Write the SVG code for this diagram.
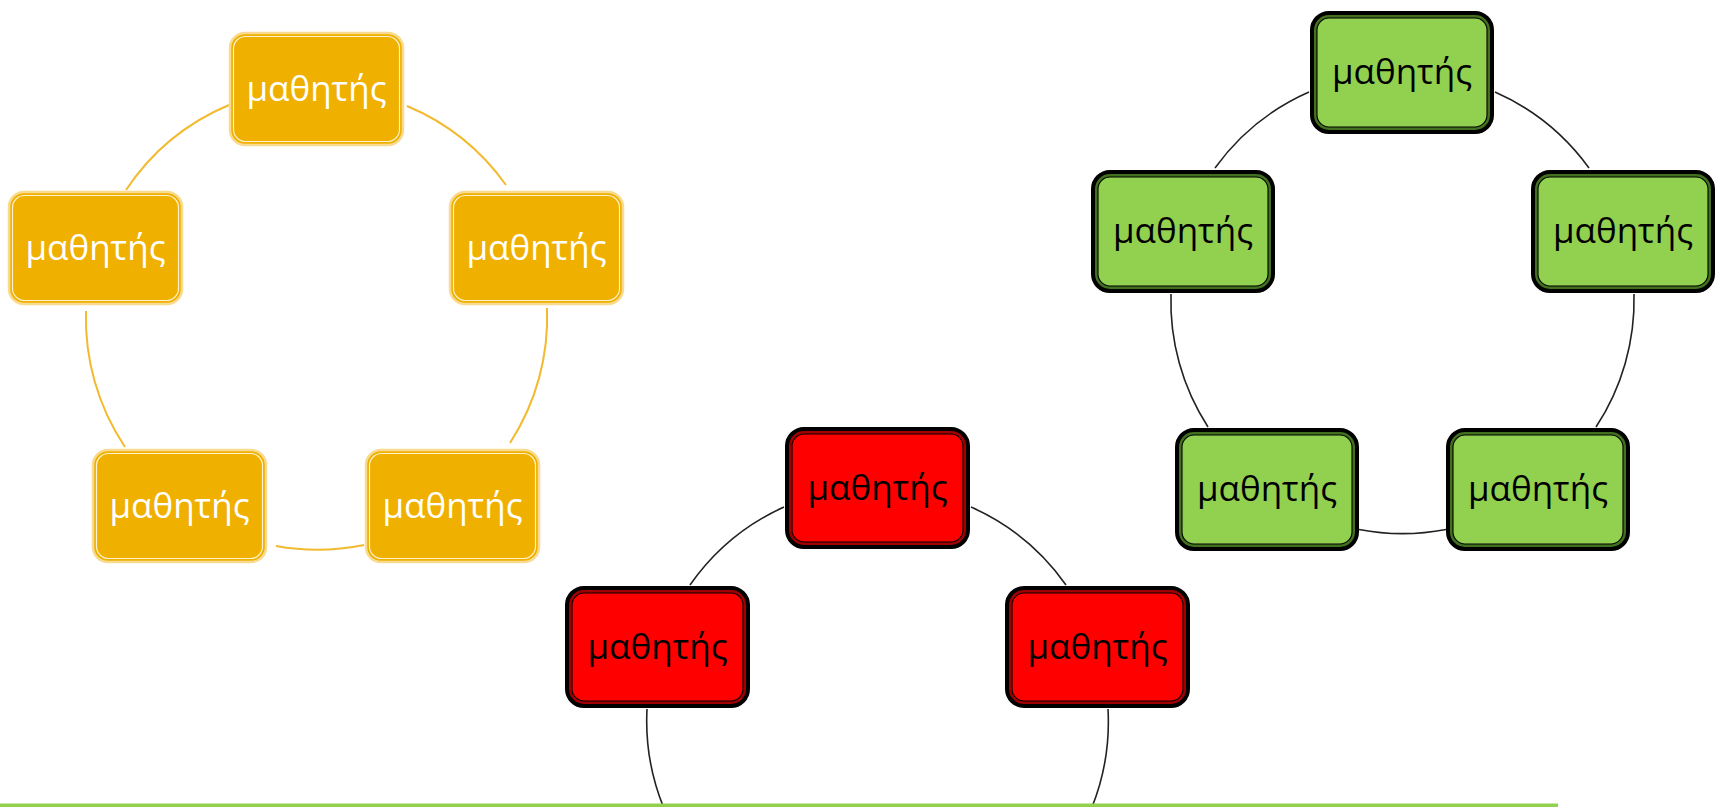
<svg xmlns="http://www.w3.org/2000/svg" width="1723" height="807" viewBox="0 0 1723 807">
<style>
.bg{fill:#FFFFFF}
.oOut{fill:#F0B000;stroke:#F8DA90;stroke-width:2.5}
.oIn{fill:none;stroke:#FFF2CC;stroke-width:1.2}
.rOut{fill:#A00000;stroke:#000000;stroke-width:4}
.rIn{fill:#FF0000;stroke:#000000;stroke-width:1.1}
.gOut{fill:#41701F;stroke:#000000;stroke-width:4}
.gIn{fill:#92D050;stroke:#000000;stroke-width:1.1}
.t{font-family:"Open Sans","Noto Sans","DejaVu Sans",sans-serif;font-size:35px;text-anchor:middle}
.tw{fill:#FFFFFF}
.tb{fill:#000000}
.co{fill:none;stroke:#F2BA2E;stroke-width:2}
.ck{fill:none;stroke:#222222;stroke-width:1.6}
</style>
<rect class="bg" x="0" y="0" width="1723" height="807"/>
<g id="connectors">
  <path class="co" d="M126 190 A231 231 0 0 1 229 105"/>
  <path class="co" d="M407 106 A231 231 0 0 1 506 185"/>
  <path class="co" d="M547 308 A231 231 0 0 1 510 443"/>
  <path class="co" d="M364 545 A231 231 0 0 1 276 546"/>
  <path class="co" d="M125 447 A231 231 0 0 1 86 311"/>
  <path class="ck" d="M1215 168 A231 231 0 0 1 1309 92"/>
  <path class="ck" d="M1495 92 A231 231 0 0 1 1589 168"/>
  <path class="ck" d="M1634 294 A231 231 0 0 1 1596 427"/>
  <path class="ck" d="M1446 529.5 A231 231 0 0 1 1359 529.5"/>
  <path class="ck" d="M1208 427 A231 231 0 0 1 1171 294"/>
  <path class="ck" d="M690 585 A231 231 0 0 1 784 507"/>
  <path class="ck" d="M971 507 A231 231 0 0 1 1066 585"/>
  <path class="ck" d="M1108 709 A231 231 0 0 1 1090 812"/>
  <path class="ck" d="M665.5 812 A231 231 0 0 1 647 709"/>
</g>
<rect id="baseline" x="0" y="803.5" width="1558" height="3.5" fill="#92D050"/>
<g id="o1"><rect class="oOut" x="230" y="33" width="173" height="112" rx="15"/><rect class="oIn" x="233.5" y="36.5" width="166" height="105" rx="12"/><text class="t tw" x="316.5" y="101">μαθητής</text></g>
<g id="o2"><rect class="oOut" x="450" y="192" width="173" height="112" rx="15"/><rect class="oIn" x="453.5" y="195.5" width="166" height="105" rx="12"/><text class="t tw" x="536.5" y="260">μαθητής</text></g>
<g id="o3"><rect class="oOut" x="366" y="450" width="173" height="112" rx="15"/><rect class="oIn" x="369.5" y="453.5" width="166" height="105" rx="12"/><text class="t tw" x="452.5" y="518">μαθητής</text></g>
<g id="o4"><rect class="oOut" x="93" y="450" width="173" height="112" rx="15"/><rect class="oIn" x="96.5" y="453.5" width="166" height="105" rx="12"/><text class="t tw" x="179.5" y="518">μαθητής</text></g>
<g id="o5"><rect class="oOut" x="9" y="192" width="173" height="112" rx="15"/><rect class="oIn" x="12.5" y="195.5" width="166" height="105" rx="12"/><text class="t tw" x="95.5" y="260">μαθητής</text></g>
<g id="g1"><rect class="gOut" x="1312" y="13" width="180" height="119" rx="17"/><rect class="gIn" x="1317" y="18" width="170" height="109" rx="12"/><text class="t tb" x="1402" y="84">μαθητής</text></g>
<g id="g2"><rect class="gOut" x="1533" y="172" width="180" height="119" rx="17"/><rect class="gIn" x="1538" y="177" width="170" height="109" rx="12"/><text class="t tb" x="1623" y="243">μαθητής</text></g>
<g id="g3"><rect class="gOut" x="1448" y="430" width="180" height="119" rx="17"/><rect class="gIn" x="1453" y="435" width="170" height="109" rx="12"/><text class="t tb" x="1538" y="501">μαθητής</text></g>
<g id="g4"><rect class="gOut" x="1177" y="430" width="180" height="119" rx="17"/><rect class="gIn" x="1182" y="435" width="170" height="109" rx="12"/><text class="t tb" x="1267" y="501">μαθητής</text></g>
<g id="g5"><rect class="gOut" x="1093" y="172" width="180" height="119" rx="17"/><rect class="gIn" x="1098" y="177" width="170" height="109" rx="12"/><text class="t tb" x="1183" y="243">μαθητής</text></g>
<g id="r1"><rect class="rOut" x="787" y="429" width="181" height="118" rx="17"/><rect class="rIn" x="792" y="434" width="171" height="108" rx="12"/><text class="t tb" x="877.5" y="500">μαθητής</text></g>
<g id="r2"><rect class="rOut" x="1007" y="588" width="181" height="118" rx="17"/><rect class="rIn" x="1012" y="593" width="171" height="108" rx="12"/><text class="t tb" x="1097.5" y="659">μαθητής</text></g>
<g id="r3"><rect class="rOut" x="567" y="588" width="181" height="118" rx="17"/><rect class="rIn" x="572" y="593" width="171" height="108" rx="12"/><text class="t tb" x="657.5" y="659">μαθητής</text></g>
</svg>
